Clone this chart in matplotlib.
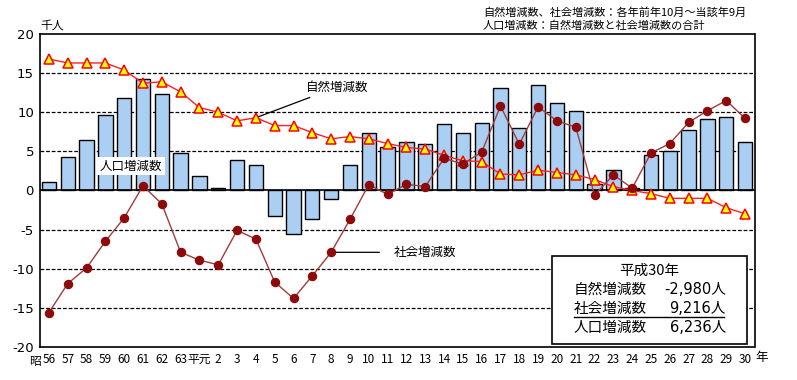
import matplotlib
matplotlib.use("Agg")
import matplotlib.pyplot as plt
import numpy as np

plt.rcParams['font.family'] = ['Noto Sans CJK JP', 'DejaVu Sans']

years = ['56', '57', '58', '59', '60', '61', '62', '63', '平元',
         '2', '3', '4', '5', '6', '7', '8', '9', '10', '11', '12', '13',
         '14', '15', '16', '17', '18', '19', '20', '21', '22', '23', '24',
         '25', '26', '27', '28', '29', '30']

# 人口増減数 (bars), 千人
population = [1.15, 4.26, 6.39, 9.71, 11.76, 14.19, 12.27, 4.73, 1.79,
              0.38, 3.96, 3.24, -3.32, -5.50, -3.58, -1.15, 3.24, 7.29,
              5.62, 6.26, 5.88, 8.56, 7.29, 8.69, 13.04, 8.05, 13.42,
              11.12, 10.10, 0.81, 2.56, 0.30, 4.52, 5.11, 7.67, 9.08,
              9.33, 6.236]

# 自然増減数 (triangles)
natural = [16.8, 16.3, 16.3, 16.3, 15.4, 13.7, 13.9, 12.6, 10.6, 10.0,
           8.9, 9.3, 8.3, 8.3, 7.4, 6.6, 6.9, 6.6, 6.0, 5.5, 5.3, 4.5,
           3.8, 3.7, 2.1, 2.0, 2.6, 2.3, 2.0, 1.4, 0.5, 0.0, -0.4, -1.0,
           -1.0, -1.0, -2.2, -2.98]

# 社会増減数 (circles)
social = [-15.6, -11.9, -9.9, -6.5, -3.5, 0.6, -1.7, -7.9, -8.9, -9.5,
          -5.1, -6.2, -11.7, -13.8, -10.9, -7.9, -3.7, 0.75, -0.5, 0.8,
          0.5, 4.1, 3.4, 4.9, 10.8, 5.9, 10.7, 8.9, 8.1, -0.6, 2.0, 0.3,
          4.8, 6.0, 8.7, 10.2, 11.5, 9.216]

yticks = [20, 15, 10, 5, 0, -5, -10, -15, -20]

W, H = 797, 380
fig = plt.figure(figsize=(W / 100, H / 100), dpi=100)
ax = fig.add_axes([39.5 / W, 1 - 347 / H, 715 / W, 313 / H])

x = np.arange(len(years))
ax.set_xlim(-0.5, len(years) - 0.5)
ax.set_ylim(-20, 20)

for yv in [15, 10, 5, -5, -10, -15]:
    ax.axhline(yv, color='black', lw=0.9, ls=(0, (3, 1.5)), zorder=1)

ax.bar(x, population, width=0.76, color='#ABCFF3', edgecolor='black',
       linewidth=1.0, zorder=2)
ax.axhline(0, color='black', lw=1.2, zorder=3)

ax.plot(x, natural, color='#FF2020', lw=1.0, marker='^', markersize=6.8,
        markerfacecolor='#FFFF00', markeredgecolor='#FF0000',
        markeredgewidth=1.1, zorder=5)
ax.plot(x, social, color='#A03C3C', lw=1.0, marker='o', markersize=5.8,
        markerfacecolor='#8E0A0A', markeredgecolor='#8E0A0A', zorder=6)

ax.set_xticks(x)
ax.set_xticklabels(years, fontsize=8.5)
ax.set_yticks(yticks)
ax.set_yticklabels([str(v) for v in yticks], fontsize=9.5,
                   family=['DejaVu Sans'])
ax.tick_params(length=0, pad=4)
for sp in ax.spines.values():
    sp.set_linewidth(1.2)
    sp.set_color('black')

# annotations
ax.annotate('自然増減数', xy=(x[11], natural[11]), xytext=(13.65, 13.2),
            fontsize=9, va='center', ha='left',
            arrowprops=dict(arrowstyle='-', color='black', lw=0.9,
                            shrinkA=2, shrinkB=0))
ax.text(4.35, 3.1, '人口増減数', fontsize=9, va='center', ha='center',
        bbox=dict(facecolor='white', edgecolor='none', pad=2), zorder=7)
ax.annotate('社会増減数', xy=(x[15], social[15]), xytext=(18.3, -7.9),
            fontsize=9, va='center', ha='left',
            arrowprops=dict(arrowstyle='-', color='black', lw=0.9,
                            shrinkA=8, shrinkB=0))

fig.text(41 / W, 1 - 362 / H, '昭', fontsize=8.5, ha='right', va='center')
fig.text(40 / W, 1 - 25 / H, '千人', fontsize=8.5, ha='left', va='center')
fig.text(762 / W, 1 - 357 / H, '年', fontsize=9, ha='center', va='center')
fig.text(483 / W, 1 - 12.5 / H, '自然増減数、社会増減数：各年前年10月～当該年9月',
         fontsize=8.0, ha='left', va='center')
fig.text(483 / W, 1 - 26 / H, '人口増減数：自然増減数と社会増減数の合計',
         fontsize=8.0, ha='left', va='center')

# info box
bx0, by0, bx1, by1 = 551.7, 256.3, 747.3, 344.3
rect = plt.Rectangle((bx0 / W, 1 - by1 / H), (bx1 - bx0) / W, (by1 - by0) / H,
                     transform=fig.transFigure, facecolor='white',
                     edgecolor='black', lw=1.2, zorder=10)
fig.patches.append(rect)
fig.text(649.5 / W, 1 - 270.7 / H, '平成30年', fontsize=10.5, ha='center',
         va='center', zorder=11)
rows = [('自然増減数', '-2,980人', 290), ('社会増減数', '9,216人', 308.5),
        ('人口増減数', '6,236人', 327.5)]
for lab, val, yy in rows:
    fig.text(574 / W, 1 - yy / H, lab, fontsize=10.5, ha='left', va='center',
             zorder=11)
    fig.text(726 / W, 1 - yy / H, val, fontsize=10.5, ha='right', va='center',
             family=['DejaVu Sans', 'Noto Sans CJK JP'], zorder=11)
fig.add_artist(plt.Line2D([574 / W, 724 / W], [1 - 316.5 / H, 1 - 316.5 / H],
                          transform=fig.transFigure, color='black', lw=1.0,
                          zorder=11))

fig.savefig('out.png', dpi=100)
